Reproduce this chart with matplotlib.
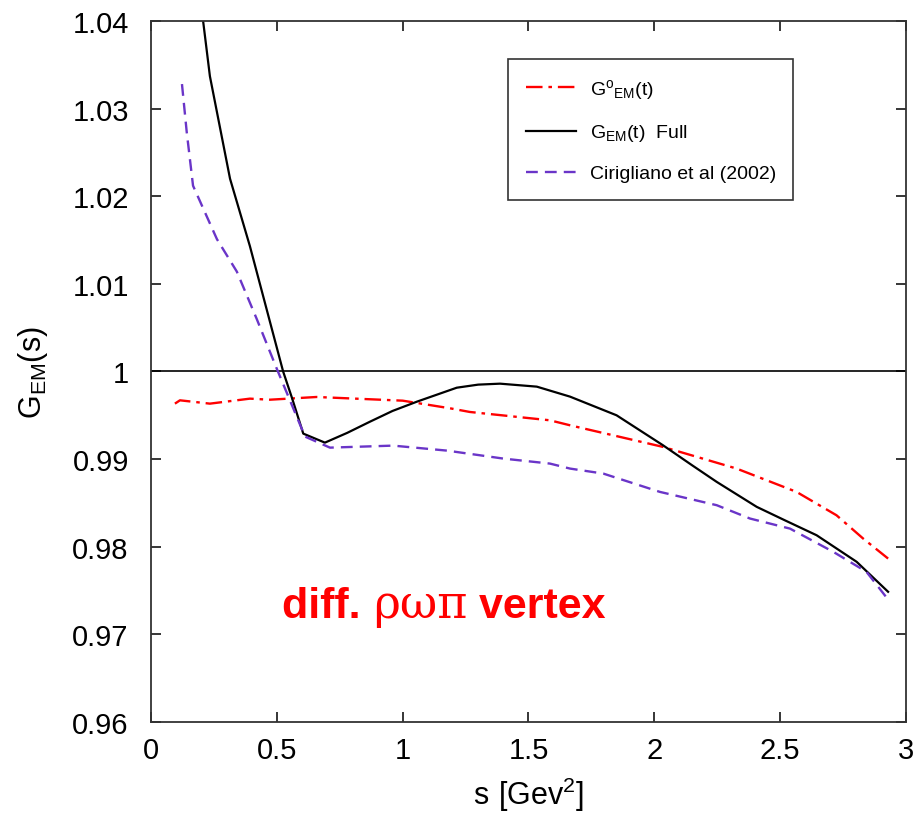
import matplotlib.pyplot as plt
from matplotlib.offsetbox import TextArea, HPacker, AnnotationBbox

s_full = [0.207, 0.234, 0.314, 0.393, 0.525, 0.56, 0.605, 0.691, 0.78, 0.87,
          0.96, 1.057, 1.215, 1.30, 1.387, 1.533, 1.665, 1.85, 2.035, 2.15,
          2.248, 2.407, 2.52, 2.645, 2.804, 2.929]
g_full = [1.0400, 1.0337, 1.0220, 1.0143, 1.0000, 0.9970, 0.99291, 0.99188,
          0.99300, 0.99427, 0.99550, 0.99656, 0.99815, 0.99850, 0.99861,
          0.99827, 0.99713, 0.99500, 0.99157, 0.98930, 0.98740, 0.98455,
          0.98300, 0.98131, 0.97828, 0.97486]

s_zero = [0.095, 0.115, 0.234, 0.393, 0.473, 0.658, 1.0, 1.188, 1.267, 1.585,
          1.665, 2.035, 2.327, 2.565, 2.724, 2.830, 2.929]
g_zero = [0.99633, 0.99671, 0.99633, 0.99690, 0.99678, 0.99709, 0.99667,
          0.99580, 0.99538, 0.99443, 0.99386, 0.99139, 0.98892, 0.98626,
          0.98359, 0.98093, 0.97865]

s_cir = [0.123, 0.142, 0.167, 0.262, 0.341, 0.42, 0.50, 0.612, 0.711, 0.962,
         1.176, 1.40, 1.585, 1.665, 1.797, 2.022, 2.248, 2.380, 2.539, 2.711,
         2.843, 2.936]
g_cir = [1.0328, 1.0273, 1.0212, 1.0151, 1.0114, 1.0060, 1.0003, 0.99257,
         0.99131, 0.99154, 0.99097, 0.99006, 0.98949, 0.98892, 0.98835,
         0.98626, 0.98474, 0.98322, 0.98207, 0.97942, 0.97714, 0.97372]

xticks = [0, 0.5, 1, 1.5, 2, 2.5, 3]
xtick_labels = ['0', '0.5', '1', '1.5', '2', '2.5', '3']
yticks = [0.96, 0.97, 0.98, 0.99, 1.0, 1.01, 1.02, 1.03, 1.04]
ytick_labels = ['0.96', '0.97', '0.98', '0.99', '1', '1.01', '1.02', '1.03', '1.04']

plt.rcParams['font.family'] = ['Liberation Sans', 'DejaVu Sans']

fig = plt.figure(figsize=(9.18, 8.2), dpi=100)
ax = fig.add_axes([0.1645, 0.1183, 0.8224, 0.8549])

ax.axhline(1.0, color='black', lw=1.2)
ax.plot(s_zero, g_zero, color='#ff0000', lw=1.7, dashes=(7, 2.5, 1.5, 2.5),
        label=r'$\mathregular{G^{o}{}_{EM}(t)}$')
ax.plot(s_full, g_full, color='black', lw=1.6,
        label=r'$\mathregular{G_{EM}(t)}$  Full')
ax.plot(s_cir, g_cir, color='#6a35c8', lw=1.7, dashes=(5, 3),
        label='Cirigliano et al (2002)')

ax.set_xlim(0, 3)
ax.set_ylim(0.96, 1.04)
ax.set_xticks(xticks)
ax.set_xticklabels(xtick_labels)
ax.set_yticks(yticks)
ax.set_yticklabels(ytick_labels)
ax.tick_params(direction='in', length=7, width=1.1, labelsize=21,
               top=True, right=True)
ax.tick_params(axis='x', pad=10)
ax.tick_params(axis='y', pad=16)
for sp in ax.spines.values():
    sp.set_linewidth(1.3)
    sp.set_color('#333333')

ax.set_xlabel(r'$\mathregular{s\ [Gev^{2}]}$', fontsize=22, labelpad=8)
ax.set_ylabel(r'$\mathregular{G_{EM}(s)}$', fontsize=22, labelpad=16)

leg = ax.legend(loc='upper left', bbox_to_anchor=(0.460, 0.959), fontsize=14,
                handlelength=2.6, labelspacing=1.1, borderpad=0.9,
                handletextpad=0.7, fancybox=False, framealpha=1)
leg.get_frame().set_edgecolor('#333333')
leg.get_frame().set_linewidth(1.2)

# red annotation, Greek letters in a serif face
parts = [TextArea('diff. ', textprops=dict(color='red', fontsize=31, fontweight='bold')),
         TextArea('ρωπ', textprops=dict(color='red', fontsize=33, family='DejaVu Serif')),
         TextArea(' vertex', textprops=dict(color='red', fontsize=31, fontweight='bold'))]
box = HPacker(children=parts, align='baseline', pad=0, sep=0)
ab = AnnotationBbox(box, (1.165, 0.9734), frameon=False, box_alignment=(0.5, 0.5))
ax.add_artist(ab)

fig.savefig('out.png', dpi=100)
